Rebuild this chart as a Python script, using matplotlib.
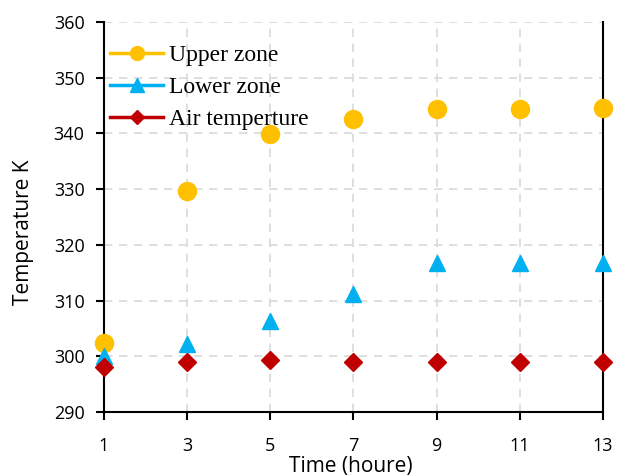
import matplotlib
matplotlib.use("Agg")
import matplotlib.pyplot as plt
from matplotlib.lines import Line2D

hours = [1, 3, 5, 7, 9, 11, 13]
upper_zone = [302.4, 329.6, 339.9, 342.5, 344.3, 344.4, 344.6]
lower_zone = [300.1, 302.2, 306.4, 311.2, 316.7, 316.7, 316.8]
air_temp = [298.0, 299.0, 299.3, 299.0, 299.0, 299.0, 299.0]

x_ticks = [1, 3, 5, 7, 9, 11, 13]
y_ticks = [290, 300, 310, 320, 330, 340, 350, 360]

fig = plt.figure(figsize=(6.19, 4.75), dpi=100)
ax = fig.add_axes([0.168, 0.1326, 0.806, 0.8211])

series = [
    (upper_zone, "Upper zone", "#FFC000", "o", 13, 10),
    (lower_zone, "Lower zone", "#00B0F0", "^", 12, 10),
    (air_temp, "Air temperture", "#C00000", "D", 9, 7.5),
]
for vals, label, color, marker, ms, _ in series:
    ax.plot(hours, vals, linestyle="none", marker=marker, markersize=ms,
            color=color, clip_on=False, zorder=3)

# legend handles drawn as line + marker
handles = [Line2D([], [], color=c, marker=m, markersize=lms, linewidth=2.5)
           for _, _, c, m, _, lms in series]
labels = [s[1] for s in series]
ax.legend(handles, labels, loc="upper left", frameon=False,
          prop={"family": "Liberation Serif", "size": 17},
          handlelength=2.25, handletextpad=0.25, labelspacing=0.45,
          borderpad=0, borderaxespad=0, bbox_to_anchor=(0.012, 0.942))

ax.set_xlim(1, 13)
ax.set_ylim(290, 360)
ax.set_xticks(x_ticks)
ax.set_yticks(y_ticks)
ax.grid(True, color="#D9D9D9", linestyle=(0, (5, 4)), linewidth=1.2)
ax.set_axisbelow(True)

for side in ["left", "bottom", "right"]:
    ax.spines[side].set_color("black")
    ax.spines[side].set_linewidth(1.5)
ax.spines["top"].set_visible(False)

ax.tick_params(axis="both", direction="out", length=6, width=1.5,
               labelsize=13)
ax.tick_params(axis="x", pad=12)
ax.tick_params(axis="y", pad=8)
for lbl in ax.get_xticklabels() + ax.get_yticklabels():
    lbl.set_family("Open Sans")

ax.set_xlabel("Time (houre)", family="Open Sans", fontsize=15)
ax.xaxis.set_label_coords(0.495, -0.113)
ax.set_ylabel("Temperature K", family="Open Sans", fontsize=15)
ax.yaxis.set_label_coords(-0.14, 0.46)

fig.savefig("out.png", dpi=100)
